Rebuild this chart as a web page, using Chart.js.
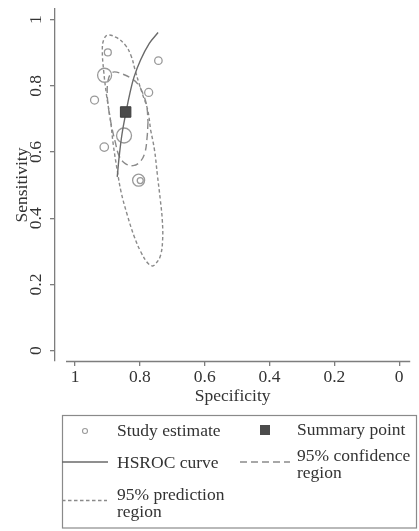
<!DOCTYPE html>
<html>
<head>
<meta charset="utf-8">
<script src="https://cdn.jsdelivr.net/npm/chart.js@4.4.0/dist/chart.umd.min.js"></script>
<style>
  html, body { margin: 0; padding: 0; background: #fff; }
  #wrap { width: 419px; height: 531px; }
</style>
</head>
<body>
<div id="wrap"><canvas id="sroc" width="419" height="531"></canvas></div>
<script>
// individual studies: specificity, sensitivity, relative weight
const studySpec = [0.899, 0.743, 0.909, 0.940, 0.773, 0.849, 0.910, 0.804, 0.799];
const studySens = [0.901, 0.876, 0.832, 0.757, 0.780, 0.650, 0.615, 0.515, 0.514];
const studyWeight = [12, 14, 49, 16, 16, 56, 18, 36, 9];

// pooled estimate
const summarySpec = [0.844];
const summarySens = [0.721];

// HSROC curve
const hsrocSpec = [0.870, 0.864, 0.855, 0.843, 0.831, 0.818, 0.798, 0.771, 0.744];
const hsrocSens = [0.525, 0.586, 0.656, 0.720, 0.777, 0.827, 0.878, 0.928, 0.961];

// 95% confidence region around the summary point
const confSpec = [0.775, 0.778, 0.785, 0.800, 0.821, 0.845, 0.864, 0.876, 0.888, 0.897,
  0.901, 0.898, 0.891, 0.879, 0.852, 0.827, 0.806, 0.790, 0.779, 0.775];
const confSens = [0.691, 0.643, 0.597, 0.570, 0.559, 0.565, 0.588, 0.630, 0.681, 0.733,
  0.781, 0.817, 0.835, 0.842, 0.835, 0.823, 0.805, 0.775, 0.739, 0.691];

// 95% prediction region
const predSpec = [0.767, 0.755, 0.746, 0.737, 0.731, 0.730, 0.737, 0.752, 0.761, 0.776,
  0.797, 0.818, 0.839, 0.858, 0.870, 0.882, 0.891, 0.903, 0.912, 0.916,
  0.912, 0.900, 0.873, 0.845, 0.827, 0.815, 0.803, 0.791, 0.776, 0.767];
const predSens = [0.667, 0.606, 0.530, 0.455, 0.395, 0.334, 0.286, 0.262, 0.256, 0.265,
  0.298, 0.346, 0.410, 0.479, 0.545, 0.621, 0.697, 0.772, 0.847, 0.908,
  0.938, 0.953, 0.946, 0.923, 0.890, 0.848, 0.808, 0.772, 0.727, 0.667];

const xTicks = [1, 0.8, 0.6, 0.4, 0.2, 0];
const yTicks = [0, 0.2, 0.4, 0.6, 0.8, 1];

const FONT = "'Liberation Serif', 'Times New Roman', serif";
const FSIZE = 17.5;
const TEXT = '#333333';
const AXIS = '#7d7d7d';

const toPoints = (xs, ys) => xs.map((x, i) => ({ x: x, y: ys[i] }));

// Stata leaves a gap between the y axis and the start of the x axis
const xAxisLine = {
  id: 'xAxisLine',
  afterDraw(chart) {
    const { ctx, chartArea } = chart;
    const y = Math.round(chartArea.bottom) + 0.5;
    ctx.save();
    ctx.strokeStyle = AXIS;
    ctx.lineWidth = 1.3;
    ctx.beginPath();
    ctx.moveTo(chartArea.left + 11, y);
    ctx.lineTo(chartArea.right, y);
    ctx.stroke();
    ctx.restore();
  }
};

// boxed legend below the plot, two columns
const legendBox = {
  id: 'legendBox',
  afterDraw(chart) {
    const ctx = chart.ctx;
    const sets = chart.data.datasets;
    const slots = [
      { label: 'Study estimate', kx: 85, tx: 117, y: 431, w: 115 },
      { label: 'Summary point', kx: 265, tx: 297, y: 430, w: 118 },
      { label: 'HSROC curve', x0: 62, x1: 108, tx: 117, y: 463, w: 115 },
      { label: '95% confidence region', x0: 240, x1: 290, tx: 297, y: 456.5, w: 118 },
      { label: '95% prediction region', x0: 62, x1: 107, tx: 117, y: 495, w: 115 }
    ];

    ctx.save();
    ctx.strokeStyle = '#8a8a8a';
    ctx.lineWidth = 1.2;
    ctx.strokeRect(62.5, 415.5, 354, 112.5);

    ctx.font = FSIZE + 'px ' + FONT;
    ctx.textAlign = 'left';
    ctx.textBaseline = 'middle';

    slots.forEach(s => {
      const ds = sets.find(d => d.label === s.label);
      // word wrap
      const lines = [];
      let cur = '';
      s.label.split(' ').forEach(word => {
        const next = cur ? cur + ' ' + word : word;
        if (cur && ctx.measureText(next).width > s.w) {
          lines.push(cur);
          cur = word;
        } else {
          cur = next;
        }
      });
      lines.push(cur);
      ctx.fillStyle = TEXT;
      lines.forEach((l, i) => ctx.fillText(l, s.tx, s.y + i * 17));

      const ky = lines.length > 1 ? s.y + 5.5 : s.y - 1;
      if (ds.showLine) {
        ctx.save();
        ctx.strokeStyle = ds.borderColor;
        ctx.lineWidth = ds.borderWidth;
        ctx.setLineDash(ds.borderDash || []);
        ctx.beginPath();
        ctx.moveTo(s.x0, ky);
        ctx.lineTo(s.x1, ky);
        ctx.stroke();
        ctx.restore();
      } else if (ds.pointStyle === 'rect') {
        ctx.fillStyle = ds.backgroundColor;
        ctx.fillRect(s.kx - 5, s.y - 5, 10, 10);
      } else {
        ctx.save();
        ctx.strokeStyle = ds.borderColor;
        ctx.lineWidth = 1.1;
        ctx.beginPath();
        ctx.arc(s.kx, s.y, 2.5, 0, Math.PI * 2);
        ctx.stroke();
        ctx.restore();
      }
    });
    ctx.restore();
  }
};

new Chart(document.getElementById('sroc'), {
  type: 'scatter',
  data: {
    datasets: [
      {
        label: 'Summary point',
        data: toPoints(summarySpec, summarySens),
        pointStyle: 'rect',
        pointRadius: 7.4,
        backgroundColor: '#4b4b4b',
        borderColor: '#3d3d3d',
        pointBorderWidth: 1
      },
      {
        label: 'HSROC curve',
        data: toPoints(hsrocSpec, hsrocSens),
        showLine: true,
        pointRadius: 0,
        borderColor: '#6a6a6a',
        borderWidth: 1.4,
        tension: 0.4
      },
      {
        label: 'Study estimate',
        data: toPoints(studySpec, studySens),
        pointStyle: 'circle',
        pointRadius: ctx => Math.sqrt(studyWeight[ctx.dataIndex]),
        backgroundColor: 'rgba(0,0,0,0)',
        borderColor: '#9a9a9a',
        pointBorderWidth: 1.3
      },
      {
        label: '95% confidence region',
        data: toPoints(confSpec, confSens),
        showLine: true,
        pointRadius: 0,
        borderColor: '#8a8a8a',
        borderWidth: 1.4,
        borderDash: [7, 4],
        tension: 0.4
      },
      {
        label: '95% prediction region',
        data: toPoints(predSpec, predSens),
        showLine: true,
        pointRadius: 0,
        borderColor: '#8a8a8a',
        borderWidth: 1.4,
        borderDash: [3.5, 2.5],
        tension: 0.4
      }
    ]
  },
  options: {
    responsive: false,
    animation: false,
    devicePixelRatio: 1,
    events: [],
    layout: { padding: { top: 9, right: 0, bottom: 124, left: 0 } },
    plugins: {
      legend: { display: false },
      tooltip: { enabled: false }
    },
    scales: {
      x: {
        type: 'linear',
        reverse: true,
        min: -0.034,
        max: 1.062,
        afterBuildTicks: s => { s.ticks = xTicks.map(v => ({ value: v })); },
        afterFit: s => { s.height = 46; s.paddingLeft = 0; s.paddingRight = 0; },
        grid: { drawOnChartArea: false, tickLength: 5, color: AXIS, lineWidth: 1.3 },
        border: { display: false },
        ticks: {
          padding: 1,
          color: TEXT,
          maxRotation: 0,
          autoSkip: false,
          font: { family: FONT, size: FSIZE },
          callback: v => String(+v.toFixed(1))
        },
        title: {
          display: true,
          text: 'Specificity',
          color: TEXT,
          font: { family: FONT, size: FSIZE },
          padding: { top: 0, bottom: 0.5 }
        }
      },
      y: {
        type: 'linear',
        min: -0.031,
        max: 1.032,
        afterBuildTicks: s => { s.ticks = yTicks.map(v => ({ value: v })); },
        afterFit: s => { s.width = 55; s.paddingTop = 0; s.paddingBottom = 0; },
        grid: { drawOnChartArea: false, tickLength: 5, color: AXIS, lineWidth: 1.3 },
        border: { display: true, color: AXIS, width: 1.3 },
        ticks: {
          minRotation: 90,
          maxRotation: 90,
          crossAlign: 'center',
          padding: 3,
          color: TEXT,
          autoSkip: false,
          font: { family: FONT, size: FSIZE },
          callback: v => String(+v.toFixed(1))
        },
        title: {
          display: true,
          text: 'Sensitivity',
          color: TEXT,
          font: { family: FONT, size: FSIZE },
          padding: { top: 11.5, bottom: 0 }
        }
      }
    }
  },
  plugins: [xAxisLine, legendBox]
});
</script>
</body>
</html>
